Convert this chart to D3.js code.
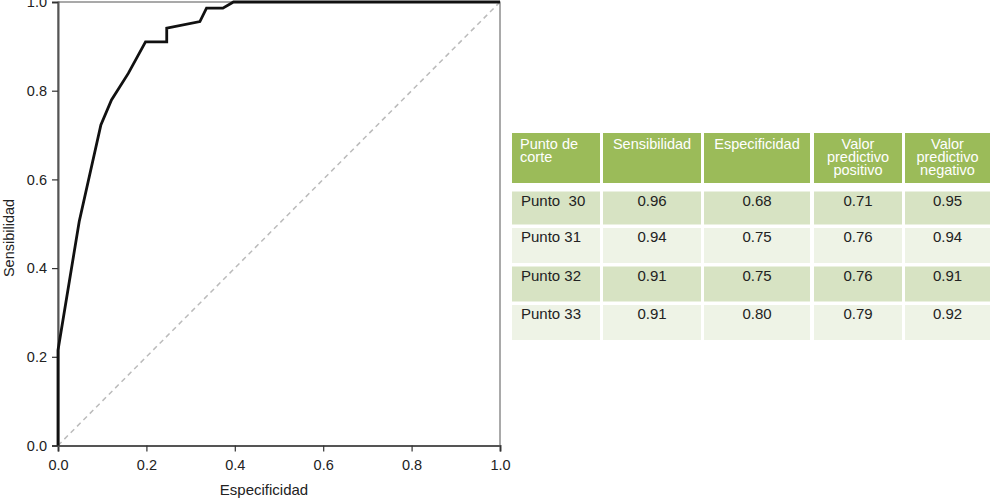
<!DOCTYPE html>
<html><head><meta charset="utf-8">
<script src="https://cdn.jsdelivr.net/npm/d3@7"></script>
<style>html,body{margin:0;padding:0;background:#fff;}svg{display:block;}</style>
</head><body>
<script>
// ROC curve points (x: 1-Especificidad axis as labelled, y: Sensibilidad)
const rocX = [0, 0, 0.048, 0.097, 0.121, 0.159, 0.198, 0.246, 0.246, 0.321, 0.336, 0.373, 0.397, 1];
const rocY = [0, 0.215, 0.505, 0.723, 0.779, 0.839, 0.910, 0.910, 0.941, 0.956, 0.986, 0.986, 1, 1];
const ticks = [0, 0.2, 0.4, 0.6, 0.8, 1.0];
const xTitle = "Especificidad";
const yTitle = "Sensibilidad";

// Table data
const headers = [["Punto de", "corte"], ["Sensibilidad"], ["Especificidad"], ["Valor", "predictivo", "positivo"], ["Valor", "predictivo", "negativo"]];
const rowLabels = ["Punto  30", "Punto 31", "Punto 32", "Punto 33"];
const sens = ["0.96", "0.94", "0.91", "0.91"];
const espec = ["0.68", "0.75", "0.75", "0.80"];
const vpp = ["0.71", "0.76", "0.76", "0.79"];
const vpn = ["0.95", "0.94", "0.91", "0.92"];

const W = 990, H = 500;
const svg = d3.select("body").append("svg").attr("width", W).attr("height", H);
const font = "'Liberation Sans', Arial, sans-serif";

const x = d3.scaleLinear().domain([0, 1]).range([58, 500]);
const y = d3.scaleLinear().domain([0, 1]).range([445.5, 2]);

// frame
svg.append("rect").attr("x", x(0)).attr("y", y(1)).attr("width", x(1) - x(0)).attr("height", y(0) - y(1))
  .attr("fill", "none").attr("stroke", "#555").attr("stroke-width", 1);

// diagonal
svg.append("line").attr("x1", x(0)).attr("y1", y(0)).attr("x2", x(1)).attr("y2", y(1))
  .attr("stroke", "#bbb").attr("stroke-width", 1.5).attr("stroke-dasharray", "5,4");

// axes
const xAxis = svg.append("g").attr("transform", `translate(0,${y(0)})`)
  .call(d3.axisBottom(x).tickValues(ticks).tickFormat(d3.format(".1f")).tickSize(6).tickPadding(8));
const yAxis = svg.append("g").attr("transform", `translate(${x(0)},0)`)
  .call(d3.axisLeft(y).tickValues(ticks).tickFormat(d3.format(".1f")).tickSize(6).tickPadding(5));
[xAxis, yAxis].forEach(g => {
  g.select(".domain").attr("stroke", "#555").attr("stroke-width", 2);
  g.selectAll(".tick line").attr("stroke", "#333").attr("stroke-width", 1.2);
  g.selectAll(".tick text").attr("fill", "#222").attr("font-size", 14.5).attr("font-family", font);
});

// curve
const pts = rocX.map((d, i) => [d, rocY[i]]);
svg.append("path").datum(pts)
  .attr("d", d3.line().x(d => x(d[0])).y(d => y(d[1])))
  .attr("fill", "none").attr("stroke", "#111").attr("stroke-width", 2.8).attr("stroke-linejoin", "miter");

// titles
svg.append("text").attr("x", 264).attr("y", 495).attr("text-anchor", "middle")
  .attr("font-size", 15).attr("font-family", font).attr("fill", "#222").text(xTitle);
svg.append("text").attr("transform", "translate(13.5,238) rotate(-90)").attr("text-anchor", "middle")
  .attr("font-size", 14.5).attr("font-family", font).attr("fill", "#222").text(yTitle);

// table
const colX = [512, 603, 704, 814, 905];
const colW = [88, 98, 106, 88, 85];
const headY = 133, headH = 50;
const rowY = [191.5, 228, 266.5, 305];
const rowH = [33, 35, 35, 35];
const bandColors = ["#d7e3c3", "#eef3e6"];
const tbl = svg.append("g");

headers.forEach((lines, c) => {
  tbl.append("rect").attr("x", colX[c]).attr("y", headY).attr("width", colW[c]).attr("height", headH).attr("fill", "#9bbb59");
  const t = tbl.append("text").attr("font-size", 14.5).attr("font-family", font).attr("fill", "#fff")
    .attr("text-anchor", c === 0 ? "start" : "middle");
  lines.forEach((ln, i) => {
    t.append("tspan").attr("x", c === 0 ? colX[c] + 8 : colX[c] + colW[c] / 2)
      .attr("y", 149 + i * 13).text(ln);
  });
});

const cols = [rowLabels, sens, espec, vpp, vpn];
rowLabels.forEach((r, i) => {
  cols.forEach((col, c) => {
    tbl.append("rect").attr("x", colX[c]).attr("y", rowY[i]).attr("width", colW[c]).attr("height", rowH[i])
      .attr("fill", bandColors[i % 2]);
    tbl.append("text").attr("x", c === 0 ? colX[c] + 9 : colX[c] + colW[c] / 2)
      .attr("y", rowY[i] + 14).attr("text-anchor", c === 0 ? "start" : "middle")
      .attr("font-size", 15).attr("font-family", font).attr("fill", "#222").attr("xml:space", "preserve")
      .style("white-space", "pre").text(col[i]);
  });
});
</script>
</body></html>
